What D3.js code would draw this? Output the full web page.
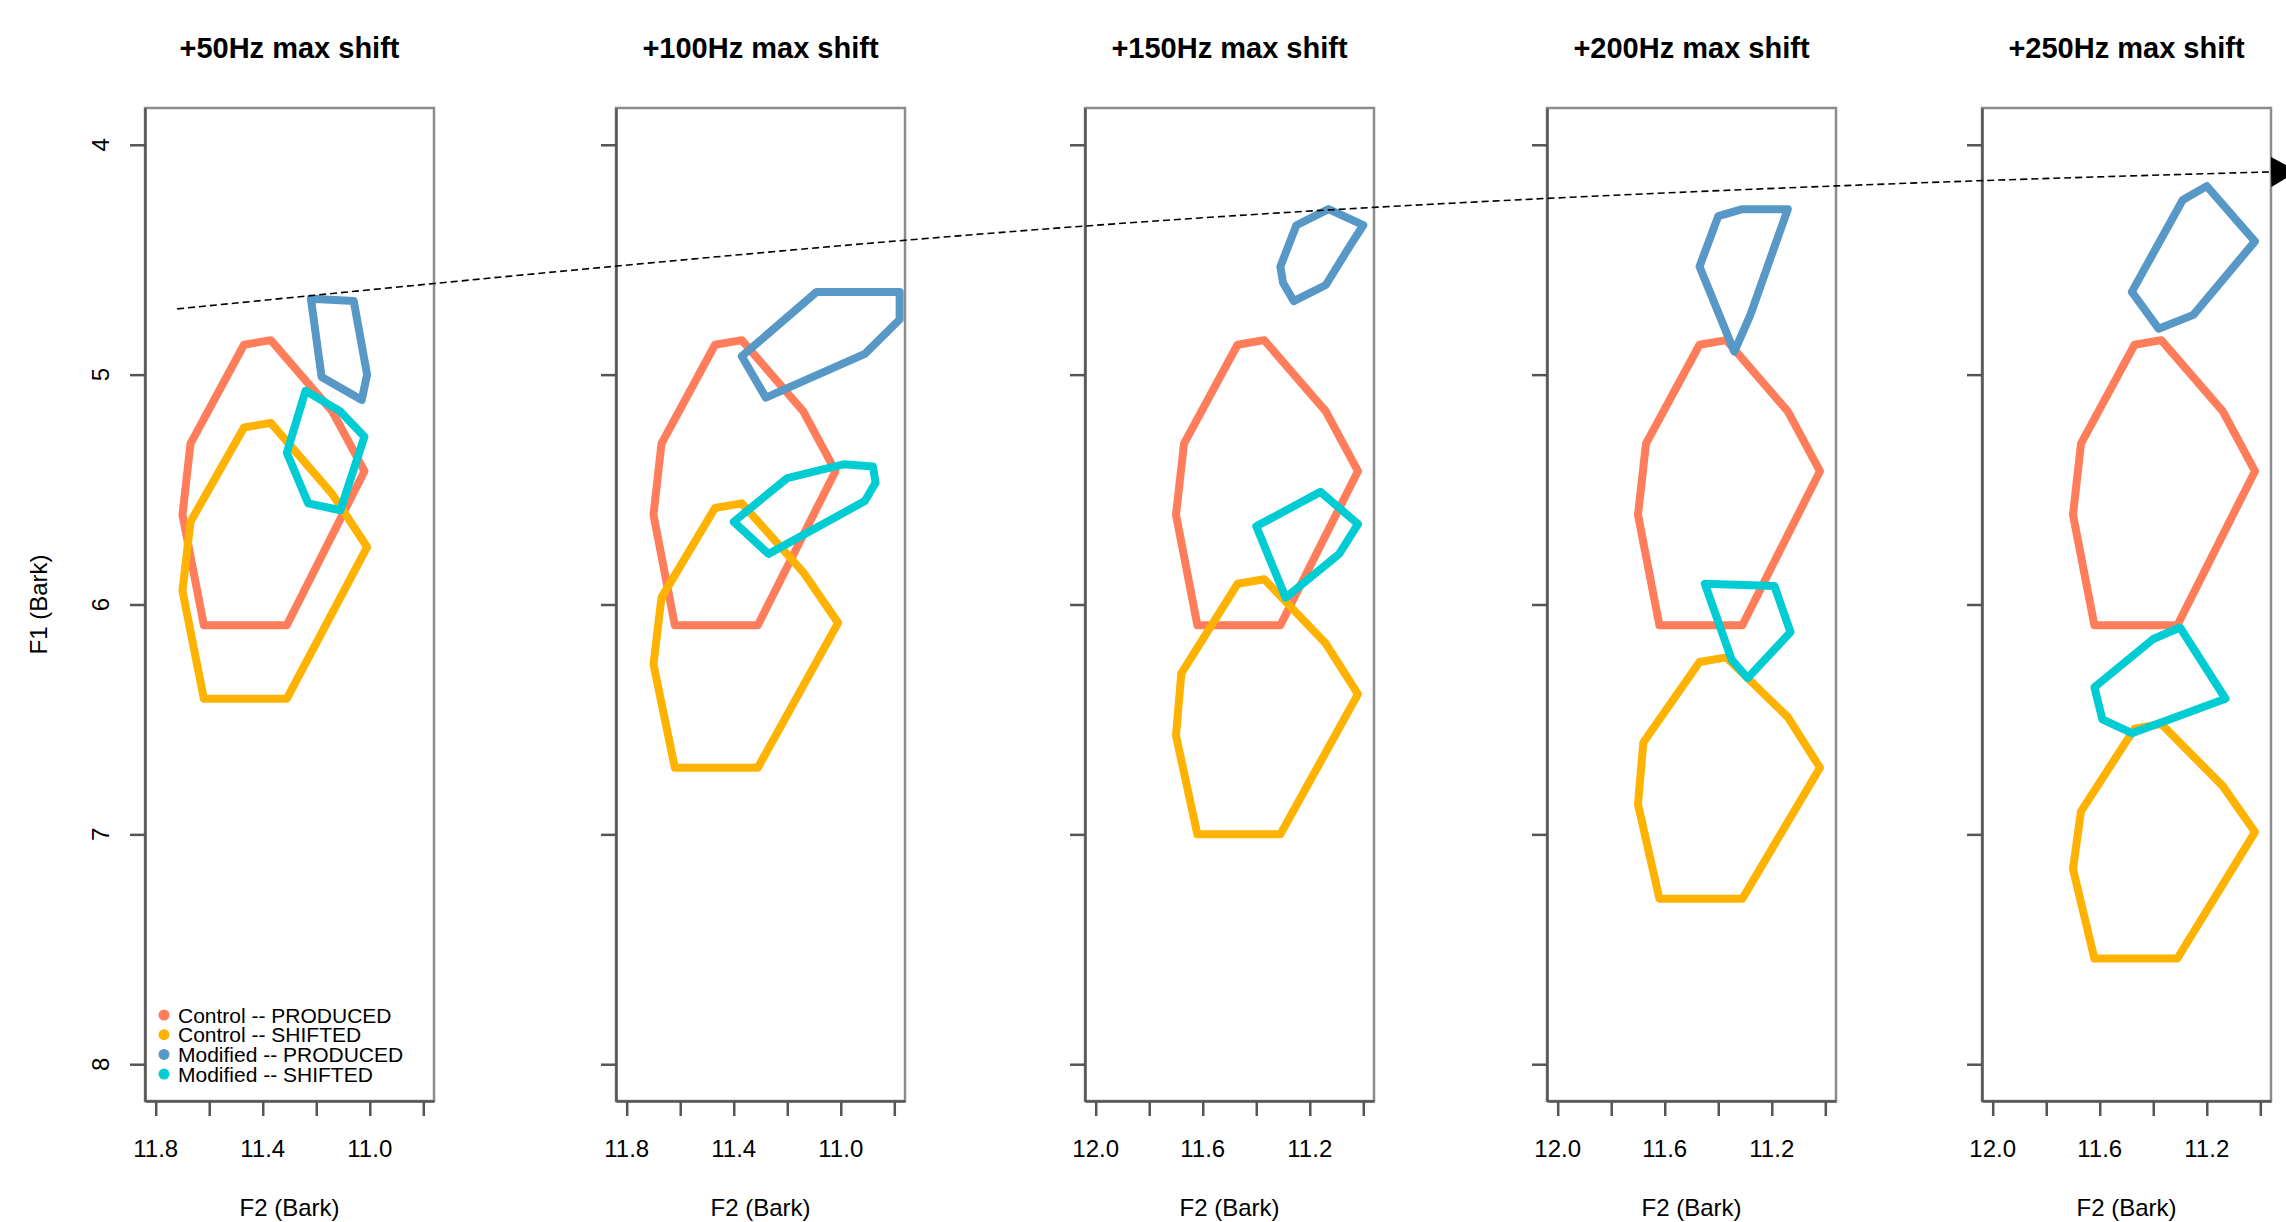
<!DOCTYPE html>
<html><head><meta charset="utf-8">
<script src="https://cdn.jsdelivr.net/npm/d3@7"></script>
<style>
html,body{margin:0;padding:0;background:#fff;}
svg{display:block;}
text{font-family:"Liberation Sans",Arial,Helvetica,sans-serif;fill:#000;}
</style>
</head><body>
<svg id="chart" width="2286" height="1222"></svg>
<script>
// ---------------- DATA ----------------
const panelTitles = ["+50Hz max shift", "+100Hz max shift", "+150Hz max shift", "+200Hz max shift", "+250Hz max shift"];
const f2Ranges = [[10.8, 11.8], [10.8, 11.8], [11.0, 12.0], [11.0, 12.0], [11.0, 12.0]];
const f1Range = [4, 8];
const f1Ticks = [4, 5, 6, 7, 8];
const seriesNames = ["Control -- PRODUCED", "Control -- SHIFTED", "Modified -- PRODUCED", "Modified -- SHIFTED"];
const seriesColors = ["#FF7D5A", "#FFB200", "#5898C6", "#00CCD3"];
const xLabel = "F2 (Bark)";
const yLabel = "F1 (Bark)";

// [F2, F1] hull vertices (Bark). Control PRODUCED is identical in every panel.
const controlProduced = [[11.47,4.87],[11.37,4.85],[11.14,5.16],[11.02,5.42],[11.31,6.09],[11.62,6.09],[11.70,5.61],[11.67,5.30]];
const controlShifted = [
  [[11.47,5.23],[11.37,5.21],[11.14,5.52],[11.01,5.75],[11.31,6.41],[11.62,6.41],[11.70,5.94],[11.67,5.64]],
  [[11.47,5.58],[11.37,5.56],[11.14,5.86],[11.01,6.08],[11.31,6.71],[11.62,6.71],[11.70,6.26],[11.67,5.97]],
  [[11.47,5.91],[11.37,5.89],[11.14,6.17],[11.02,6.39],[11.31,7.00],[11.62,7.00],[11.70,6.57],[11.68,6.30]],
  [[11.47,6.25],[11.37,6.23],[11.14,6.49],[11.02,6.71],[11.31,7.28],[11.62,7.28],[11.70,6.87],[11.68,6.60]],
  [[11.47,6.54],[11.37,6.52],[11.14,6.79],[11.02,6.99],[11.31,7.54],[11.62,7.54],[11.70,7.15],[11.67,6.90]]
];
const modifiedProduced = [
  [[11.22,4.67],[11.06,4.68],[11.01,5.00],[11.03,5.11],[11.18,5.01]],
  [[11.09,4.64],[10.78,4.64],[10.78,4.76],[10.91,4.91],[11.28,5.10],[11.37,4.92]],
  [[11.25,4.35],[11.13,4.28],[11.00,4.35],[11.05,4.44],[11.14,4.61],[11.26,4.68],[11.30,4.60],[11.31,4.53]],
  [[11.40,4.31],[11.31,4.28],[11.14,4.28],[11.28,4.74],[11.34,4.90],[11.47,4.53]],
  [[11.29,4.24],[11.20,4.18],[11.02,4.42],[11.25,4.74],[11.38,4.80],[11.48,4.64]]
];
const modifiedShifted = [
  [[11.24,5.07],[11.11,5.16],[11.02,5.27],[11.11,5.59],[11.23,5.56],[11.31,5.34]],
  [[11.20,5.45],[10.99,5.39],[10.88,5.40],[10.87,5.47],[10.91,5.55],[11.27,5.78],[11.40,5.64]],
  [[11.40,5.66],[11.16,5.51],[11.02,5.65],[11.09,5.78],[11.29,5.97]],
  [[11.45,5.91],[11.19,5.92],[11.13,6.12],[11.29,6.32],[11.35,6.24]],
  [[11.62,6.36],[11.40,6.15],[11.30,6.10],[11.13,6.41],[11.48,6.56],[11.59,6.50]]
];
// trend arrow anchor points: [panel index, F2, F1]
const trendArrow = [[0,11.72,4.714],[1,11.676,4.51],[2,11.50,4.31],[3,10.96,4.179],[4,10.96,4.118]];

// ---------------- LAYOUT ----------------
const svg = d3.select("#chart");
svg.append("rect").attr("width",2286).attr("height",1222).attr("fill","#fff");

const panelLeft = [145, 616, 1085, 1547, 1982];
const panelW = 289;
const plotTop = 108, plotBottom = 1101;
const expand = r => { const w = r[1]-r[0]; return [r[0]-0.04*w, r[1]+0.04*w]; };

const yExp = expand(f1Range);
const yScale = d3.scaleLinear().domain(yExp).range([plotTop, plotBottom]);

const xScales = f2Ranges.map((r,i) => {
  const e = expand(r);
  return d3.scaleLinear().domain([e[1], e[0]]).range([panelLeft[i], panelLeft[i]+panelW]);
});

const axisColor = "#555";
const boxColor = "#8c8c8c";
const lineGen = (x) => d3.line().x(d => x(d[0])).y(d => yScale(d[1])).curve(d3.curveLinearClosed);

panelTitles.forEach((title, i) => {
  const x = xScales[i];
  const g = svg.append("g");
  const [x0, x1] = x.range();

  // box
  g.append("rect").attr("x", x0).attr("y", plotTop).attr("width", x1-x0).attr("height", plotBottom-plotTop)
    .attr("fill","none").attr("stroke", boxColor).attr("stroke-width", 2.5);

  // title
  g.append("text").attr("x", (x0+x1)/2).attr("y", 58).attr("text-anchor","middle")
    .attr("font-size", 29).attr("font-weight","bold").text(title);

  // y axis
  const yAxis = d3.axisLeft(yScale).tickValues(f1Ticks).tickSize(15).tickSizeOuter(0).tickFormat("");
  const ya = g.append("g").attr("transform", `translate(${x0},0)`).call(yAxis);
  ya.select(".domain").attr("stroke", axisColor).attr("stroke-width", 2.5);
  ya.selectAll(".tick line").attr("stroke", axisColor).attr("stroke-width", 2.5);

  // x axis
  const xt = d3.range(f2Ranges[i][0], f2Ranges[i][1] + 1e-6, 0.2).map(v => +v.toFixed(1));
  const xAxis = d3.axisBottom(x).tickValues(xt).tickSize(15).tickSizeOuter(0).tickFormat("");
  const xa = g.append("g").attr("transform", `translate(0,${plotBottom})`).call(xAxis);
  xa.select(".domain").attr("stroke", axisColor).attr("stroke-width", 2.5);
  xa.selectAll(".tick line").attr("stroke", axisColor).attr("stroke-width", 2.5);
  // labels on every other tick, from the highest value
  const sorted = xt.slice().sort((a,b)=>b-a);
  sorted.forEach((v, k) => {
    if (k % 2 === 0) {
      g.append("text").attr("x", x(v)).attr("y", 1157).attr("text-anchor","middle")
        .attr("font-size", 24).text(d3.format(".1f")(v));
    }
  });
  g.append("text").attr("x", (x0+x1)/2).attr("y", 1216).attr("text-anchor","middle")
    .attr("font-size", 24).text(xLabel);

  if (i === 0) {
    f1Ticks.forEach(v => {
      g.append("text").attr("transform", `translate(109,${yScale(v)}) rotate(-90)`)
        .attr("text-anchor","middle").attr("font-size", 24).text(v);
    });
    g.append("text").attr("transform", `translate(47,${(plotTop+plotBottom)/2}) rotate(-90)`)
      .attr("text-anchor","middle").attr("font-size", 24).text(yLabel);
  }

  // polygons
  const series = [controlProduced, controlShifted[i], modifiedProduced[i], modifiedShifted[i]];
  series.forEach((pts, s) => {
    g.append("path").attr("d", lineGen(x)(pts)).attr("fill","none")
      .attr("stroke", seriesColors[s]).attr("stroke-width", 8).attr("stroke-linejoin","round");
  });

  // legend in first panel
  if (i === 0) {
    const lg = g.append("g");
    seriesNames.forEach((name, s) => {
      const cy = 1015 + s * 19.7;
      lg.append("circle").attr("cx", x0 + 19).attr("cy", cy).attr("r", 5.5).attr("fill", seriesColors[s]);
      lg.append("text").attr("x", x0 + 33).attr("y", cy + 7.5).attr("font-size", 21).text(name);
    });
  }
});

// trend arrow
const defs = svg.append("defs");
defs.append("marker").attr("id","arrowHead").attr("markerUnits","userSpaceOnUse")
  .attr("markerWidth", 30).attr("markerHeight", 32).attr("refX", 0).attr("refY", 15)
  .attr("orient","auto")
  .append("path").attr("d","M0,0 L27,15 L0,30 Z").attr("fill","#000");

const arrowPts = trendArrow.map(([p, f2, f1]) => [xScales[p](f2), yScale(f1)]);
svg.append("path").attr("d", d3.line().curve(d3.curveNatural)(arrowPts))
  .attr("fill","none").attr("stroke","#000").attr("stroke-width", 1.6)
  .attr("stroke-dasharray","7,4").attr("marker-end","url(#arrowHead)");
</script>
</body></html>
